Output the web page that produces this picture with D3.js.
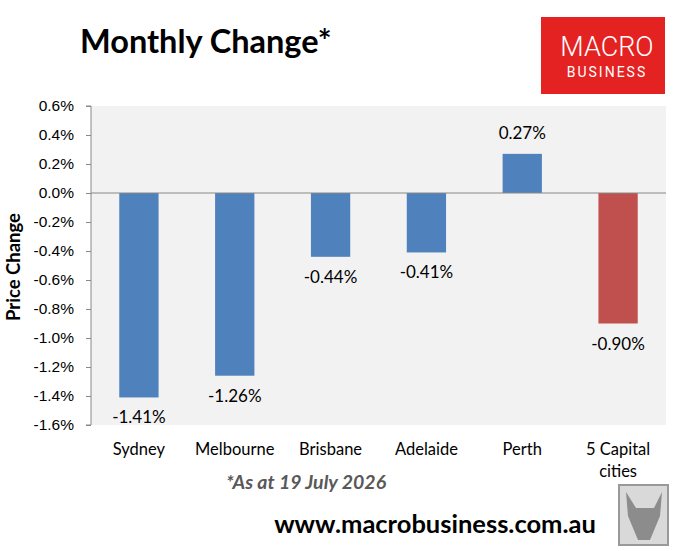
<!DOCTYPE html>
<html>
<head>
<meta charset="utf-8">
<script src="https://cdn.jsdelivr.net/npm/d3@7"></script>
<style>
  body { margin: 0; background: #fff; }
  svg { font-family: Lato, "Open Sans", sans-serif; }
</style>
</head>
<body>
<svg id="chart" width="675" height="551"></svg>
<script>
// data
var cities = ["Sydney", "Melbourne", "Brisbane", "Adelaide", "Perth", "5 Capital cities"];
var changes = [-1.41, -1.26, -0.44, -0.41, 0.27, -0.90];
var yTicks = [0.6, 0.4, 0.2, 0.0, -0.2, -0.4, -0.6, -0.8, -1.0, -1.2, -1.4, -1.6];

var svg = d3.select("#chart");
var margin = {top: 106, right: 9, bottom: 126, left: 91};
var width = 675 - margin.left - margin.right;
var height = 551 - margin.top - margin.bottom;

var g = svg.append("g")
    .attr("transform", "translate(" + margin.left + "," + margin.top + ")");

var x = d3.scaleBand().domain(cities).range([0, width]).paddingInner(0.59).paddingOuter(0.295),
    y = d3.scaleLinear().domain([-1.6, 0.6]).range([height, 0]);

// plot background
g.append("rect")
    .attr("width", width)
    .attr("height", height)
    .attr("fill", "#f2f2f2");

// y axis
var yAxis = g.append("g")
    .call(d3.axisLeft(y).tickValues(yTicks).tickSize(5).tickPadding(12)
        .tickFormat(function(d) { return d.toFixed(1) + "%"; }));
yAxis.select(".domain").attr("stroke", "#888").attr("d", "M-5,0H0V" + height + "H-5");
yAxis.selectAll(".tick line").attr("stroke", "#888");
yAxis.selectAll("text").attr("fill", "#000").style("font-size", "15.5px");

// bars
g.selectAll(".bar")
    .data(changes)
    .enter().append("rect")
    .attr("class", "bar")
    .attr("x", function(d, i) { return x(cities[i]); })
    .attr("y", function(d) { return y(Math.max(0, d)); })
    .attr("width", x.bandwidth())
    .attr("height", function(d) { return Math.abs(y(d) - y(0)); })
    .attr("fill", function(d, i) { return i == cities.length - 1 ? "#c0504d" : "#4f81bd"; });

// zero line
g.append("line")
    .attr("x1", 0).attr("x2", width)
    .attr("y1", y(0)).attr("y2", y(0))
    .attr("stroke", "#888");

// value labels
g.selectAll(".val")
    .data(changes)
    .enter().append("text")
    .attr("class", "val")
    .attr("x", function(d, i) { return x(cities[i]) + x.bandwidth() / 2; })
    .attr("y", function(d) { return d < 0 ? y(d) + 26 : y(d) - 15; })
    .attr("text-anchor", "middle")
    .style("font-size", "17px")
    .text(function(d) { return d.toFixed(2) + "%"; });

// category labels
g.selectAll(".cat")
    .data(cities)
    .enter().append("text")
    .attr("class", "cat")
    .attr("x", function(d) { return x(d) + x.bandwidth() / 2; })
    .attr("y", height + 30)
    .attr("text-anchor", "middle")
    .style("font-size", "16.5px")
    .each(function(d) {
        var t = d3.select(this);
        var lines = d == "5 Capital cities" ? ["5 Capital", "cities"] : [d];
        lines.forEach(function(l, k) {
            t.append("tspan").attr("x", x(d) + x.bandwidth() / 2).attr("dy", k ? 22 : 0).text(l);
        });
    });

// y axis title
svg.append("text")
    .attr("transform", "translate(20,267) rotate(-90)")
    .attr("text-anchor", "middle")
    .style("font-size", "18.5px")
    .style("font-weight", "bold")
    .text("Price Change");

// title
svg.append("text")
    .attr("x", 80)
    .attr("y", 53)
    .style("font-size", "32.5px")
    .style("font-weight", "bold")
    .text("Monthly Change*");

// logo
svg.append("rect")
    .attr("x", 541).attr("y", 17)
    .attr("width", 124).attr("height", 77)
    .attr("fill", "#e52222");
svg.append("text")
    .attr("x", 607).attr("y", 56)
    .attr("text-anchor", "middle")
    .attr("fill", "#fff")
    .style("font-family", "Roboto, sans-serif")
    .style("font-weight", "300")
    .style("font-size", "27px")
    .text("MACRO");
svg.append("text")
    .attr("x", 607).attr("y", 77)
    .attr("text-anchor", "middle")
    .attr("fill", "#fff")
    .style("font-family", "Roboto, sans-serif")
    .style("font-size", "14px")
    .style("letter-spacing", "2px")
    .text("BUSINESS");

// footnote
svg.append("text")
    .attr("x", 306).attr("y", 489)
    .attr("text-anchor", "middle")
    .attr("fill", "#595959")
    .style("font-size", "19.5px")
    .style("font-weight", "bold")
    .style("font-style", "italic")
    .text("*As at 19 July 2026");

// url
svg.append("text")
    .attr("x", 435).attr("y", 533)
    .attr("text-anchor", "middle")
    .style("font-size", "25.5px")
    .style("font-weight", "bold")
    .text("www.macrobusiness.com.au");

// fox badge
svg.append("rect")
    .attr("x", 619).attr("y", 485)
    .attr("width", 49).attr("height", 60)
    .attr("fill", "#d9d9d9")
    .attr("stroke", "#999")
    .attr("stroke-width", 2);
svg.append("path")
    .attr("d", "M626,492 L636,508 L654,508 L662,492 L660,516 L650,540 L638,540 L628,516 Z")
    .attr("fill", "#8c8c8c");
</script>
</body>
</html>
